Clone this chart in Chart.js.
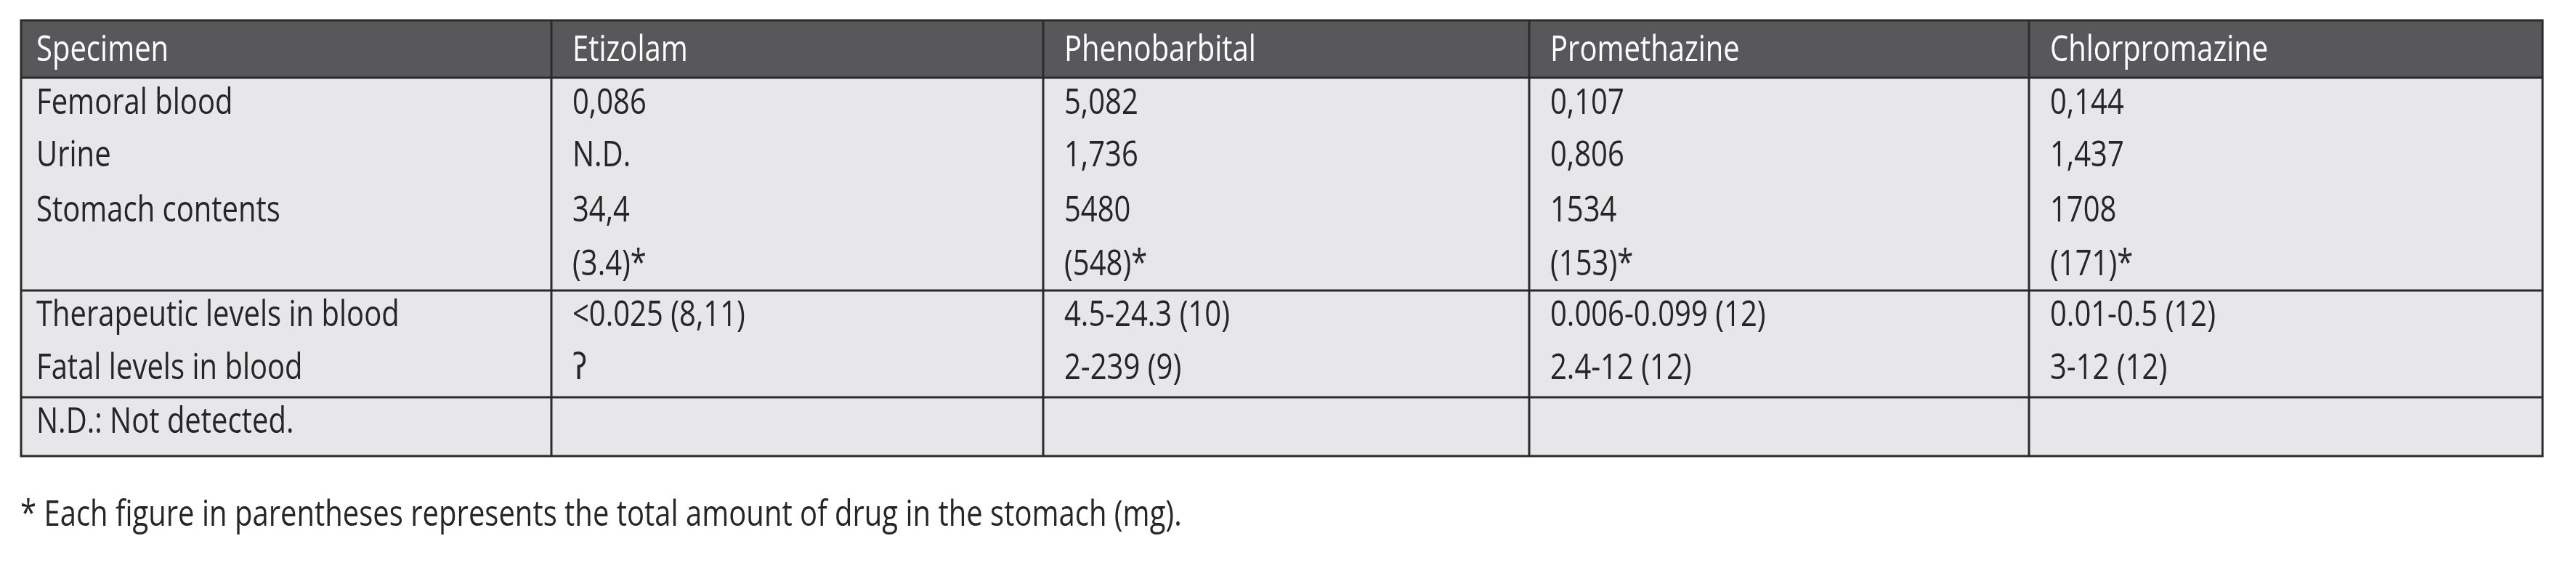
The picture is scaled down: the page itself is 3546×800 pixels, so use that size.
<!DOCTYPE html>
<html><head><meta charset="utf-8">
<script src="https://cdn.jsdelivr.net/npm/chart.js@4"></script>
<style>html,body{margin:0;padding:0;background:#fff;}canvas{display:block;}</style>
</head><body>
<canvas id="c" width="3546" height="800"></canvas>
<script>
// ---- data ----
const columns = ["Specimen", "Etizolam", "Phenobarbital", "Promethazine", "Chlorpromazine"];
const specimens = ["Femoral blood", "Urine", "Stomach contents", "", "Therapeutic levels in blood", "Fatal levels in blood", "N.D.: Not detected."];
const etizolam = ["0,086", "N.D.", "34,4", "(3.4)*", "<0.025 (8,11)", "ʔ", ""];
const phenobarbital = ["5,082", "1,736", "5480", "(548)*", "4.5-24.3 (10)", "2-239 (9)", ""];
const promethazine = ["0,107", "0,806", "1534", "(153)*", "0.006-0.099 (12)", "2.4-12 (12)", ""];
const chlorpromazine = ["0,144", "1,437", "1708", "(171)*", "0.01-0.5 (12)", "3-12 (12)", ""];
const footnote = "* Each figure in parentheses represents the total amount of drug in the stomach (mg).";

// ---- layout (scale units) ----
const colEdges = [29, 759, 1436, 2105, 2793, 3500];
const rowCenters = [143, 215, 291, 365, 435, 508, 582];
const headerTop = 28, headerBottom = 107, groupLines = [400, 547], tableBottom = 628;
const FONT = '400 50px "Open Sans", "DejaVu Sans", sans-serif';
const SQUEEZE = 0.8;

const tablePlugin = {
  id: 'table',
  beforeDraw(chart) {
    const ctx = chart.ctx, xs = chart.scales.x, ys = chart.scales.y;
    const X = v => xs.getPixelForValue(v), Y = v => ys.getPixelForValue(v);
    const txt = (t, x, y) => { ctx.save(); ctx.translate(x, y); ctx.scale(SQUEEZE, 1); ctx.fillText(t, 0, 0); ctx.restore(); };
    ctx.save();
    ctx.fillStyle = '#fff'; ctx.fillRect(0, 0, chart.width, chart.height);
    ctx.fillStyle = '#e7e7e9';
    ctx.fillRect(X(colEdges[0]), Y(headerBottom), X(colEdges[5]) - X(colEdges[0]), Y(tableBottom) - Y(headerBottom));
    ctx.fillStyle = '#58585a';
    ctx.fillRect(X(colEdges[0]), Y(headerTop), X(colEdges[5]) - X(colEdges[0]), Y(headerBottom) - Y(headerTop));
    ctx.strokeStyle = '#2a2a2a'; ctx.lineWidth = 3;
    ctx.strokeRect(X(colEdges[0]), Y(headerTop), X(colEdges[5]) - X(colEdges[0]), Y(tableBottom) - Y(headerTop));
    ctx.beginPath();
    [headerBottom, ...groupLines].forEach(v => { ctx.moveTo(X(colEdges[0]), Y(v)); ctx.lineTo(X(colEdges[5]), Y(v)); });
    colEdges.slice(1, 5).forEach(v => { ctx.moveTo(X(v), Y(headerTop)); ctx.lineTo(X(v), Y(tableBottom)); });
    ctx.stroke();
    ctx.textBaseline = 'middle'; ctx.textAlign = 'left';
    ctx.font = FONT;
    ctx.fillStyle = '#ffffff';
    const pads = [21, 29, 29, 29, 29];
    columns.forEach((t, i) => txt(t, X(colEdges[i] + pads[i]), Y((headerTop + headerBottom) / 2 + 2)));
    ctx.fillStyle = '#262626';
    const cols = [specimens, etizolam, phenobarbital, promethazine, chlorpromazine];
    cols.forEach((arr, i) => arr.forEach((t, r) => {
      if (t) txt(t, X(colEdges[i] + pads[i]), Y(rowCenters[r]));
    }));
    txt(footnote, X(28), Y(710));
    ctx.restore();
  }
};

new Chart(document.getElementById('c'), {
  type: 'scatter',
  data: { datasets: [{ data: [], pointRadius: 0 }] },
  options: {
    responsive: false, animation: false, devicePixelRatio: 1,
    layout: { padding: 0 },
    plugins: { legend: { display: false }, tooltip: { enabled: false } },
    scales: {
      x: { type: 'linear', min: 0, max: 3546, display: false },
      y: { type: 'linear', min: 0, max: 800, reverse: true, display: false }
    }
  },
  plugins: [tablePlugin]
});
</script>
</body></html>
